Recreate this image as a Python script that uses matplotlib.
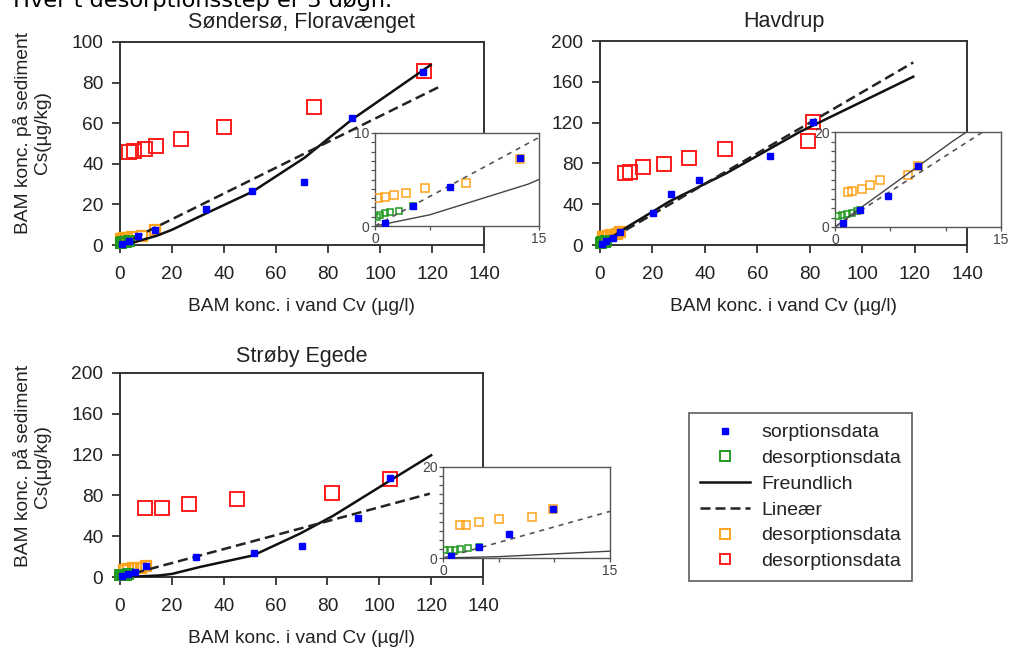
import matplotlib
matplotlib.use('Agg')
import matplotlib.pyplot as plt
from matplotlib.lines import Line2D
from matplotlib.ticker import MultipleLocator

plt.rcParams['font.family'] = ['Liberation Sans', 'DejaVu Sans']

# ---------------- data ----------------
# Søndersø, Floravænget
s_sorp_x = [0.9, 3.5, 6.9, 13.3, 33.1, 50.9, 70.8, 89.1, 116.7]
s_sorp_y = [0.35, 2.1, 4.2, 7.3, 17.9, 26.4, 30.9, 62.7, 85.4]
s_des1_x = [0.2, 0.5, 0.9, 1.4, 2.2, 3.5]
s_des1_y = [1.0, 1.2, 1.35, 1.5, 1.6, 2.1]
s_des2_x = [0.3, 0.9, 1.7, 2.8, 4.6, 8.3, 13.3]
s_des2_y = [3.0, 3.15, 3.3, 3.6, 4.05, 4.65, 7.2]
s_des3_x = [3.5, 5.5, 9.5, 14, 23.5, 40, 74.5, 117]
s_des3_y = [45.8, 46.5, 47.5, 48.8, 52, 58, 67.8, 85.5]
s_fr_x = [0, 5, 14, 20, 33, 51, 71, 89, 119.5]
s_fr_y = [0, 1.2, 4.5, 7.5, 15.5, 26.3, 43, 61.6, 88.7]
s_lin_x = [0, 124]
s_lin_y = [0, 78.7]

# Havdrup
h_sorp_x = [0.75, 2.3, 4.8, 7.5, 20.1, 26.9, 37.9, 64.7, 81.1]
h_sorp_y = [0.85, 3.5, 6.5, 12.8, 31, 50, 63.6, 87.4, 120.7]
h_des1_x = [0.3, 0.6, 1.1, 1.5, 2.0, 2.3]
h_des1_y = [2.3, 2.6, 2.8, 3.0, 3.3, 3.5]
h_des2_x = [1.2, 1.5, 2.4, 3.2, 4.1, 6.6, 7.5]
h_des2_y = [7.4, 7.6, 8.1, 8.8, 9.8, 11.0, 12.8]
h_des3_x = [9.5, 11.5, 16.3, 24.6, 34, 47.7, 79.4, 81.1]
h_des3_y = [70.1, 71.8, 76.7, 79.3, 85.5, 94, 101.8, 120.7]
h_fr_x = [0, 2.3, 10.6, 26.7, 48.3, 76.3, 119.5]
h_fr_y = [0, 4.0, 18, 43, 70.5, 111, 165]
h_lin_x = [0, 119.5]
h_lin_y = [0, 179]

# Strøby Egede
e_sorp_x = [0.75, 3.2, 5.9, 9.9, 29.5, 51.8, 70.3, 91.8, 104.3]
e_sorp_y = [0.5, 2.5, 5.3, 10.7, 19.6, 23.5, 30.1, 57.8, 97.4]
e_des1_x = [0.15, 0.6, 1.05, 1.5, 2.25, 3.2]
e_des1_y = [1.7, 1.8, 1.8, 1.95, 2.2, 2.5]
e_des2_x = [1.5, 2.1, 3.2, 5.0, 8.0, 9.9]
e_des2_y = [7.3, 7.3, 7.85, 8.6, 9.1, 10.7]
e_des3_x = [9.6, 16.3, 26.6, 45, 81.8, 104.3]
e_des3_y = [68, 68, 71.9, 76.1, 82.4, 96.4]
e_fr_x = [0, 5, 15, 20, 30.8, 51.4, 69.4, 82.2, 104.3, 120]
e_fr_y = [0, 0.3, 1.5, 3, 9.8, 21.2, 42.5, 60, 94.8, 119.3]
e_lin_x = [0, 119.5]
e_lin_y = [0, 81.7]

titles = ["Søndersø, Floravænget", "Havdrup", "Strøby Egede"]
legend_labels = ["sorptionsdata", "desorptionsdata", "Freundlich", "Lineær",
                 "desorptionsdata", "desorptionsdata"]
xlabel = "BAM konc. i vand Cv (µg/l)"
ylabel = "BAM konc. på sediment\nCs(µg/kg)"
header = "Hver t desorptionsstep er 3 døgn."

BLUE = '#0000ff'
GREEN = '#1f9a1f'
ORANGE = '#ffa31a'
RED = '#ff1a1a'
TXT = '#222222'
FS = 13.8

W, H = 1011, 648
fig = plt.figure(figsize=(W / 100, H / 100), dpi=100)


def rect(l, t, r, b):
    return [l / W, 1 - b / H, (r - l) / W, (b - t) / H]


def draw_main(r, d, ymax, ystep, title, tpad):
    ax = fig.add_axes(rect(*r))
    sx, sy, g_x, g_y, o_x, o_y, r_x, r_y, fx, fy, lx, ly = d
    ax.plot(r_x, r_y, 's', ms=9.5, mfc='none', mec=RED, mew=1.4, clip_on=False, zorder=3)
    ax.plot(o_x, o_y, 's', ms=7.5, mfc='none', mec=ORANGE, mew=1.6, clip_on=False, zorder=3)
    ax.plot(g_x, g_y, 's', ms=6.5, mfc='none', mec=GREEN, mew=1.4, clip_on=False, zorder=3.5)
    ax.plot(fx, fy, '-', color='#111111', lw=1.8, zorder=4)
    ax.plot(lx, ly, '--', color='#222222', lw=1.8, dashes=(4, 2), zorder=4)
    ax.plot(sx, sy, 's', ms=5, mfc=BLUE, mec=BLUE, clip_on=False, zorder=5)
    ax.set_xlim(0, 140)
    ax.set_ylim(0, ymax)
    ax.xaxis.set_major_locator(MultipleLocator(20))
    ax.yaxis.set_major_locator(MultipleLocator(ystep))
    ax.tick_params(direction='out', length=6, width=1.3, labelsize=FS,
                   colors='#333333', labelcolor=TXT)
    ax.tick_params(axis='x', pad=9)
    ax.tick_params(axis='y', pad=6)
    for s in ax.spines.values():
        s.set_color('#333333')
        s.set_linewidth(1.4)
    ax.set_title(title, fontsize=15.5, color=TXT, pad=tpad)
    ax.set_xlabel(xlabel, fontsize=FS, color=TXT, labelpad=11)
    return ax


def draw_inset(r, d, ymax, ystep):
    ax = fig.add_axes(rect(*r))
    ax.set_zorder(10)
    ax.set_facecolor('white')
    sx, sy, g_x, g_y, o_x, o_y, r_x, r_y, fx, fy, lx, ly = d
    ax.plot(r_x, r_y, 's', ms=6, mfc='none', mec=RED, mew=1.0, zorder=3)
    ax.plot(o_x, o_y, 's', ms=6, mfc='none', mec=ORANGE, mew=1.1, zorder=3)
    ax.plot(g_x, g_y, 's', ms=5, mfc='none', mec=GREEN, mew=1.1, zorder=3.5)
    ax.plot(fx, fy, '-', color='#444444', lw=1.0, zorder=4)
    ax.plot(lx, ly, '--', color='#555555', lw=1.2, dashes=(3, 3), zorder=4)
    ax.plot(sx, sy, 's', ms=4, mfc=BLUE, mec=BLUE, zorder=5)
    ax.set_xlim(0, 15)
    ax.set_ylim(0, ymax)
    ax.set_xticks([0, 15])
    ax.set_xticks([5, 10], minor=True)
    ax.set_yticks([0, ymax])
    ax.yaxis.set_minor_locator(MultipleLocator(ystep))
    ax.tick_params(which='both', direction='out', length=3, width=0.9,
                   labelsize=10, colors='#555555', labelcolor='#444444', pad=1)
    for s in ax.spines.values():
        s.set_color('#555555')
        s.set_linewidth(1.0)
    return ax


d1 = (s_sorp_x, s_sorp_y, s_des1_x, s_des1_y, s_des2_x, s_des2_y,
      s_des3_x, s_des3_y, s_fr_x, s_fr_y, s_lin_x, s_lin_y)
d2 = (h_sorp_x, h_sorp_y, h_des1_x, h_des1_y, h_des2_x, h_des2_y,
      h_des3_x, h_des3_y, h_fr_x, h_fr_y, h_lin_x, h_lin_y)
d3 = (e_sorp_x, e_sorp_y, e_des1_x, e_des1_y, e_des2_x, e_des2_y,
      e_des3_x, e_des3_y, e_fr_x, e_fr_y, e_lin_x, e_lin_y)

draw_main((120, 42, 484, 245), d1, 100, 20, titles[0], 10)
draw_main((600, 41, 967, 245), d2, 200, 40, titles[1], 10)
draw_main((120, 373, 483, 577), d3, 200, 40, titles[2], 8)

draw_inset((375, 133, 539, 226), d1, 10, 1)
draw_inset((835, 132, 1001, 227), d2, 20, 2)
draw_inset((443, 467, 610, 558), d3, 20, 2)

# y labels
fig.text(32 / W, 1 - 133 / H, ylabel, rotation=90, ha='center', va='center',
         multialignment='center', fontsize=FS, color=TXT)
fig.text(32 / W, 1 - 466 / H, ylabel, rotation=90, ha='center', va='center',
         multialignment='center', fontsize=FS, color=TXT)

# header (cut at the top, as in the source)
fig.text(13 / W, 1 - 7 / H, header, ha='left', va='baseline', fontsize=16.2,
         family='DejaVu Sans', color='black')

# legend
handles = [
    Line2D([], [], ls='none', marker='s', ms=5, mfc=BLUE, mec=BLUE),
    Line2D([], [], ls='none', marker='s', ms=6.5, mfc='none', mec=GREEN, mew=1.4),
    Line2D([], [], color='#111111', lw=1.8),
    Line2D([], [], color='#222222', lw=1.8, ls='--', dashes=(4, 2)),
    Line2D([], [], ls='none', marker='s', ms=6.5, mfc='none', mec=ORANGE, mew=1.4),
    Line2D([], [], ls='none', marker='s', ms=6.5, mfc='none', mec=RED, mew=1.4),
]
leg = fig.legend(handles, legend_labels, loc='upper left',
                 bbox_to_anchor=(689 / W, 1 - 413 / H), bbox_transform=fig.transFigure,
                 frameon=True, fancybox=False, edgecolor='#333333', fontsize=14,
                 labelspacing=0.42, handlelength=2.6, handletextpad=0.55,
                 borderpad=0.55, borderaxespad=0)
leg.get_frame().set_linewidth(1.2)
for t in leg.get_texts():
    t.set_color(TXT)

fig.savefig('out.png', dpi=100, facecolor='white')
